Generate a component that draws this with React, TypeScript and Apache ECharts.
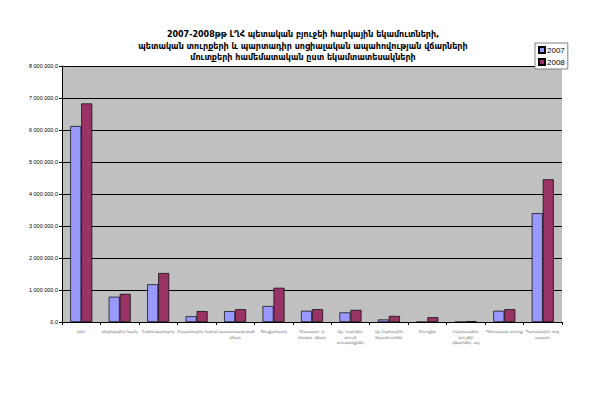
import React, { useEffect, useRef } from "react";
import * as echarts from "echarts";

const categories = [
  "ԱԱՀ",
  "Ակցիզային հարկ",
  "Շահութահարկ",
  "Եկամտային հարկ",
  "Հաստատագրված\nվճար",
  "Գույքահարկ",
  "Բնապահ. և\nբնօգտ. վճար",
  "Այլ. հարկեր,\nտույժ,\nտուգանքներ",
  "Այլ հարկային\nեկամուտներ",
  "Տուրքեր",
  "Հանրապետ.\nբյուջեի\nվճարներ, այլ",
  "Պետական տուրք",
  "Պարտադիր սոց.\nապահ.",
];
const values2007 = [6125000, 790000, 1180000, 180000, 340000, 500000, 350000, 300000, 80000, 0, 0, 350000, 3400000];
const values2008 = [6830000, 880000, 1530000, 340000, 400000, 1070000, 400000, 380000, 190000, 150000, 25000, 400000, 4460000];
const seriesNames = ["2007", "2008"];
const titleLines = [
  "2007-2008թթ ԼՂՀ պետական բյուջեի հարկային եկամուտների,",
  "պետական տուրքերի և պարտադիր սոցիալական ապահովության վճարների",
  "մուտքերի համեմատական ըստ եկամտատեսակների",
];

function fmt(v: number): string {
  const s = Math.round(v).toString().replace(/\B(?=(\d{3})+(?!\d))/g, " ");
  return s + ",0";
}

export default function App() {
  const ref = useRef<HTMLDivElement>(null);
  useEffect(() => {
    if (!ref.current) return;
    const chart = echarts.init(ref.current, undefined, { renderer: "svg" });
    chart.setOption({
      animation: false,
      backgroundColor: "#ffffff",
      title: {
        text: titleLines.join("\n"),
        left: 298,
        textAlign: "center",
        top: 24,
        textStyle: {
          fontFamily: "DejaVu Sans",
          fontWeight: "bold",
          fontSize: 8,
          lineHeight: 11.5,
          color: "#000",
        },
      },
      legend: {
        data: seriesNames,
        orient: "vertical",
        left: 535,
        top: 43,
        itemWidth: 6,
        itemHeight: 6,
        itemGap: 4,
        padding: [3, 3, 3, 3],
        backgroundColor: "#fff",
        borderColor: "#808080",
        borderWidth: 1,
        textStyle: { fontFamily: "Liberation Sans", fontSize: 8, color: "#000", padding: [0, 0, 0, -3] },
        icon: "rect",
      },
      grid: { left: 62, right: 38, top: 66, bottom: 98, show: true, backgroundColor: "#C0C0C0", borderWidth: 0 },
      xAxis: {
        type: "category",
        data: categories,
        axisLine: { lineStyle: { color: "#000", width: 1 } },
        axisTick: { show: true, length: 3, lineStyle: { color: "#000" } },
        axisLabel: {
          interval: 0,
          fontFamily: "DejaVu Sans",
          fontSize: 4,
          lineHeight: 5.5,
          color: "#777",
          margin: 7,
        },
      },
      yAxis: {
        type: "value",
        min: 0,
        max: 8000000,
        interval: 1000000,
        axisLine: { show: true, lineStyle: { color: "#000" } },
        axisTick: { show: true, length: 3, lineStyle: { color: "#000" } },
        splitLine: { lineStyle: { color: "#000", width: 1 } },
        axisLabel: {
          formatter: (v: number) => fmt(v),
          fontFamily: "Liberation Sans",
          fontSize: 5.5,
          color: "#000",
          margin: 4,
        },
      },
      series: [
        {
          name: seriesNames[0],
          type: "bar",
          data: values2007,
          barWidth: 11,
          barGap: "0%",
          itemStyle: { color: "#9999FF", borderColor: "#000", borderWidth: 0.7 },
        },
        {
          name: seriesNames[1],
          type: "bar",
          data: values2008,
          barWidth: 11,
          barGap: "0%",
          itemStyle: { color: "#993366", borderColor: "#000", borderWidth: 0.7 },
        },
      ],
    });
    return () => chart.dispose();
  }, []);
  return <div ref={ref} style={{ width: 600, height: 420, position: "absolute", left: 0, top: 0 }} />;
}
